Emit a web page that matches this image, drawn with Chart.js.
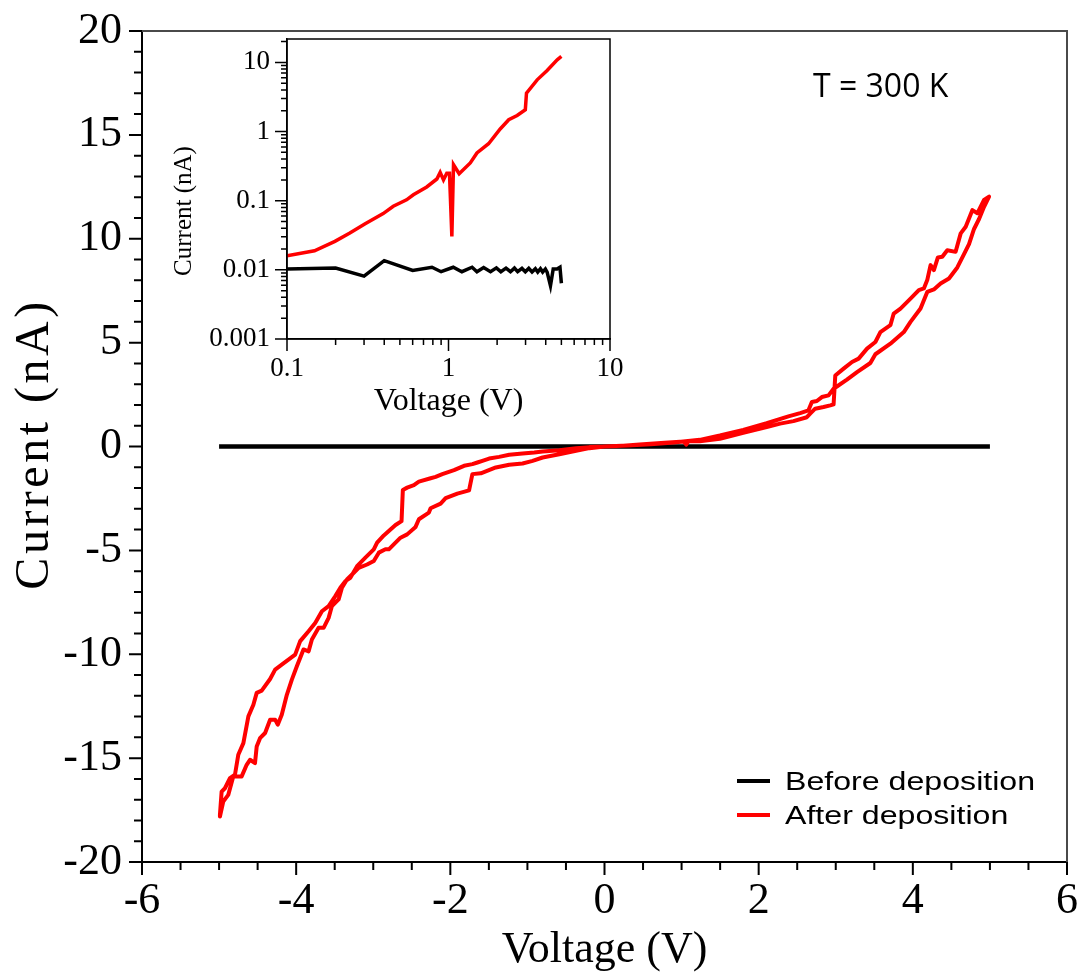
<!DOCTYPE html>
<html><head><meta charset="utf-8">
<script src="https://cdn.jsdelivr.net/npm/chart.js@4.4.0/dist/chart.umd.min.js"></script>
<style>
html,body{margin:0;padding:0;background:#fff;}
#wrap{position:relative;width:1080px;height:974px;overflow:hidden;background:#fff;}
#main{position:absolute;left:0;top:0;}
#inset{position:absolute;left:150px;top:20px;}
</style></head><body>
<div id="wrap"><canvas id="main" width="1080" height="974"></canvas><canvas id="inset" width="480" height="400"></canvas></div>
<script>
// ---------------- data ----------------
const seriesNames = ['Before deposition', 'After deposition'];
const annotationText = 'T = 300 K';
const xAxisTitle = 'Voltage (V)';
const yAxisTitle = 'Current (nA)';

const beforeVoltage = [-5, -2.5, 0, 2.5, 5];
const beforeCurrent = [0, 0, 0, 0, 0];

// hysteresis loop: 0 -> +5 -> 0 -> -5 -> 0
const afterVoltage = [
  0, 0.2, 0.455, 0.78, 1.03, 1.06, 1.09, 1.236, 1.497, 1.8, 2.104, 2.278, 2.451, 2.625, 2.668, 2.733, 2.842, 2.929, 2.972, 2.994,
  3.102, 3.211, 3.297, 3.406, 3.514, 3.579, 3.709, 3.752, 3.84, 3.97, 4.078, 4.143, 4.187, 4.23, 4.273, 4.325, 4.382, 4.447, 4.555,
  4.621, 4.686, 4.773, 4.838, 4.924, 4.989,
  4.924, 4.859, 4.794, 4.729, 4.664, 4.577, 4.469, 4.36, 4.273, 4.187, 4.1, 3.97, 3.883, 3.709, 3.514, 3.449, 3.276, 3.145, 2.972,
  2.907, 2.82, 2.755, 2.69, 2.646, 2.538, 2.386, 2.104, 1.8, 1.497, 1.236, 0.9, 0.6, 0.3, 0,
  -0.195, -0.369, -0.586, -0.803, -0.911, -1.063, -1.236, -1.367, -1.497, -1.584, -1.649, -1.714, -1.822, -1.952, -2.104, -2.191,
  -2.256, -2.408, -2.473, -2.56, -2.616, -2.633, -2.711, -2.798, -2.863, -2.95, -2.993, -3.102, -3.21, -3.297, -3.362, -3.427,
  -3.492, -3.579, -3.666, -3.753, -3.839, -3.948, -4.013, -4.1, -4.187, -4.273, -4.338, -4.447, -4.512, -4.555, -4.62, -4.685,
  -4.751, -4.794, -4.859, -4.924, -4.967, -4.989,
  -4.989, -4.946, -4.881, -4.816, -4.707, -4.642, -4.599, -4.534, -4.512, -4.469, -4.403, -4.338, -4.273, -4.239, -4.187, -4.121,
  -4.056, -3.991, -3.905, -3.839, -3.796, -3.709, -3.644, -3.579, -3.536, -3.449, -3.406, -3.341, -3.275, -3.189, -3.08, -2.993,
  -2.928, -2.842, -2.798, -2.711, -2.646, -2.56, -2.451, -2.408, -2.278, -2.256, -2.126, -2.061, -1.909, -1.757, -1.714, -1.605,
  -1.41, -1.236, -1.063, -0.933, -0.803, -0.586, -0.369, -0.195, 0
];
const afterCurrent = [
  0, 0.03, 0.10, 0.18, 0.24, 0.09, 0.26, 0.25, 0.37, 0.66, 0.93, 1.10, 1.22, 1.41, 1.58, 1.82, 1.90, 1.98, 2.03, 3.42,
  3.75, 4.07, 4.23, 4.71, 5.03, 5.51, 5.84, 6.40, 6.64, 7.12, 7.53, 7.61, 8.01, 8.73, 8.49, 9.10, 9.13, 9.45, 9.37,
  10.26, 10.58, 11.38, 11.23, 11.87, 12.03,
  11.54, 10.95, 10.47, 9.74, 9.26, 8.62, 8.09, 7.85, 7.56, 7.44, 6.64, 6.00, 5.51, 4.95, 4.44, 4.02, 3.58, 3.22, 2.78,
  2.46, 2.38, 2.19, 2.14, 1.74, 1.61, 1.45, 1.12, 0.80, 0.53, 0.32, 0.19, 0.11, 0.05, 0,
  -0.03, -0.08, -0.18, -0.24, -0.29, -0.34, -0.40, -0.50, -0.58, -0.69, -0.77, -0.85, -0.93, -1.14, -1.33, -1.46,
  -1.53, -1.69, -1.86, -1.98, -2.09, -3.59, -3.78, -4.07, -4.28, -4.63, -4.95, -5.35, -5.76, -6.32, -6.48, -6.80,
  -7.20, -7.68, -7.93, -8.49, -8.89, -9.37, -10.02, -10.26, -10.50, -10.74, -11.19, -11.75, -11.86, -12.43, -12.99, -14.28,
  -14.84, -15.80, -15.96, -16.45, -16.61, -17.73,
  -17.81, -17.09, -16.77, -15.88, -15.88, -15.32, -15.08, -15.24, -14.44, -14.04, -13.79, -13.15, -13.15, -13.39, -12.91, -11.95,
  -11.22, -10.58, -9.77, -9.86, -9.29, -8.73, -8.73, -8.25, -7.68, -7.36, -6.80, -6.40, -6.16, -5.84, -5.68, -5.51,
  -5.11, -4.95, -4.95, -4.63, -4.39, -4.23, -3.87, -3.50, -3.18, -2.97, -2.75, -2.49, -2.27, -2.11, -1.33, -1.29,
  -1.01, -0.88, -0.82, -0.69, -0.53, -0.37, -0.21, -0.08, 0
];

const xTickValues = [-6, -4, -2, 0, 2, 4, 6];
const xTickLabels = ['-6', '-4', '-2', '0', '2', '4', '6'];
const yTickValues = [-20, -15, -10, -5, 0, 5, 10, 15, 20];
const yTickLabels = ['-20', '-15', '-10', '-5', '0', '5', '10', '15', '20'];

// inset (log-log, positive bias)
const insetBeforeVoltage = [0.1, 0.2, 0.3, 0.4, 0.6, 0.79, 0.9, 1.07, 1.21, 1.4, 1.5, 1.65, 1.82, 1.98, 2.11, 2.27, 2.42, 2.56,
  2.68, 2.85, 2.99, 3.14, 3.29, 3.45, 3.57, 3.71, 3.83, 3.98, 4.08, 4.28, 4.45, 4.7, 4.9, 5.0];
const insetBeforeCurrent = [0.0103, 0.0106, 0.0081, 0.0136, 0.0098, 0.0109, 0.0094, 0.0109, 0.0094, 0.0109, 0.0094, 0.0108,
  0.0094, 0.0107, 0.0094, 0.0106, 0.0094, 0.0106, 0.0094, 0.0105, 0.0094, 0.0105, 0.0093, 0.0104, 0.0093, 0.0104, 0.0093,
  0.0103, 0.0093, 0.0059, 0.0103, 0.0103, 0.0109, 0.0064];
const insetAfterVoltage = [0.1, 0.148, 0.198, 0.245, 0.303, 0.394, 0.455, 0.55, 0.606, 0.733, 0.847, 0.888, 0.931, 0.976, 1.014,
  1.049, 1.074, 1.164, 1.364, 1.5, 1.77, 2.09, 2.36, 2.66, 2.99, 3.04, 3.54, 4.08, 4.71, 5.0];
const insetAfterCurrent = [0.016, 0.0189, 0.0258, 0.034, 0.046, 0.065, 0.083, 0.103, 0.122, 0.158, 0.206, 0.257, 0.2, 0.25, 0.25,
  0.0305, 0.331, 0.245, 0.351, 0.49, 0.667, 1.09, 1.48, 1.71, 2.07, 3.6, 5.6, 7.66, 10.9, 12.2];
const insetXTickValues = [0.1, 1, 10];
const insetXTickLabels = ['0.1', '1', '10'];
const insetYTickValues = [0.001, 0.01, 0.1, 1, 10];
const insetYTickLabels = ['0.001', '0.01', '0.1', '1', '10'];

// ---------------- helpers ----------------
const toPoints = (xs, ys) => xs.map((v, i) => ({ x: v, y: ys[i] }));
const SERIF = '"Liberation Serif", "Times New Roman", serif';
const SANS = '"Liberation Sans", Arial, sans-serif';
const lineColors = ['#000000', '#ff0000'];

function linearMinors(values, step) {
  const out = [];
  for (let i = 0; i < values.length - 1; i++) {
    for (let v = values[i] + step; v < values[i + 1] - 1e-9; v += step) out.push(v);
  }
  return out;
}
function logMinors(values, max) {
  const out = [];
  for (let i = 0; i < values.length; i++) {
    for (let k = 2; k <= 9; k++) { const v = values[i] * k; if (v <= max * 1.0001) out.push(v); }
  }
  return out;
}
const fitX = h => s => { s.height = h; s.paddingLeft = 0; s.paddingRight = 0; s.paddingTop = 0; s.paddingBottom = 0; };
const fitY = w => s => { s.width = w; s.paddingLeft = 0; s.paddingRight = 0; s.paddingTop = 0; s.paddingBottom = 0; };

function tickPlugin(cfg) {
  return {
    id: 'tickMarks',
    afterDraw(chart) {
      const { ctx, chartArea } = chart;
      const xs = chart.scales.x, ys = chart.scales.y;
      ctx.save();
      ctx.strokeStyle = '#000';
      ctx.lineWidth = cfg.width;
      ctx.beginPath();
      const xt = (vals, len) => vals.forEach(v => {
        const p = xs.getPixelForValue(v);
        ctx.moveTo(p, chartArea.bottom); ctx.lineTo(p, chartArea.bottom + len);
      });
      const yt = (vals, len) => vals.forEach(v => {
        const p = ys.getPixelForValue(v);
        ctx.moveTo(chartArea.left, p); ctx.lineTo(chartArea.left - len, p);
      });
      xt(cfg.xMajor, cfg.majorLen); xt(cfg.xMinor, cfg.minorLen);
      yt(cfg.yMajor, cfg.majorLen); yt(cfg.yMinor, cfg.minorLen);
      ctx.stroke();
      ctx.restore();
    }
  };
}

// ---------------- main chart ----------------
const mainDecor = {
  id: 'mainDecor',
  afterDraw(chart) {
    const { ctx, chartArea: a } = chart;
    ctx.save();
    // top & right frame
    ctx.strokeStyle = '#4a4a4a';
    ctx.lineWidth = 2;
    ctx.beginPath();
    ctx.moveTo(a.left, a.top); ctx.lineTo(a.right, a.top); ctx.lineTo(a.right, a.bottom);
    ctx.stroke();
    // axis titles
    ctx.fillStyle = '#000';
    ctx.font = '44px ' + SERIF;
    ctx.textAlign = 'center';
    ctx.textBaseline = 'alphabetic';
    ctx.fillText(xAxisTitle, (a.left + a.right) / 2, 962);
    ctx.save();
    ctx.translate(48, 446);
    ctx.rotate(-Math.PI / 2);
    ctx.font = '48px ' + SERIF;
    ctx.letterSpacing = '3.5px';
    ctx.fillText(yAxisTitle, 2, 0);
    ctx.restore();
    // annotation
    ctx.textAlign = 'left';
    ctx.font = '32px "Open Sans", ' + SANS;
    ctx.fillText(annotationText, 813, 97);
    // legend
    const ds = chart.data.datasets;
    const legendOrder = [1, 0]; // Before, After
    legendOrder.forEach((di, row) => {
      const d = ds[di];
      const ly = 781 + row * 34;
      ctx.strokeStyle = d.borderColor;
      ctx.lineWidth = 4;
      ctx.beginPath(); ctx.moveTo(737, ly); ctx.lineTo(770, ly); ctx.stroke();
      ctx.save();
      ctx.translate(785, ly + 8.5);
      ctx.scale(1.26, 1);
      ctx.font = '25.5px ' + SANS;
      ctx.fillStyle = '#000';
      ctx.fillText(d.label, 0, 0);
      ctx.restore();
    });
    ctx.restore();
  }
};

new Chart(document.getElementById('main'), {
  type: 'scatter',
  data: {
    datasets: [
      { label: seriesNames[1], data: toPoints(afterVoltage, afterCurrent), borderColor: lineColors[1], backgroundColor: lineColors[1],
        borderWidth: 4, showLine: true, pointRadius: 0, pointHoverRadius: 0, tension: 0, borderJoinStyle: 'round', borderCapStyle: 'round', order: 0 },
      { label: seriesNames[0], data: toPoints(beforeVoltage, beforeCurrent), borderColor: lineColors[0], backgroundColor: lineColors[0],
        borderWidth: 4.5, showLine: true, pointRadius: 0, pointHoverRadius: 0, tension: 0, order: 1 }
    ]
  },
  options: {
    responsive: false, animation: false, events: [],
    layout: { padding: { top: 31, right: 13, left: 0, bottom: 0 } },
    plugins: { legend: { display: false }, tooltip: { enabled: false } },
    scales: {
      x: {
        type: 'linear', min: -6, max: 6, position: 'bottom',
        afterFit: fitX(112),
        afterBuildTicks: s => { s.ticks = xTickValues.map(v => ({ value: v })); },
        grid: { display: false, drawTicks: false },
        border: { display: true, color: '#000', width: 2 },
        ticks: { padding: 13, autoSkip: false, maxRotation: 0, color: '#000', font: { family: SERIF, size: 44, lineHeight: 1.2 },
          callback: v => { const i = xTickValues.indexOf(v); return i >= 0 ? xTickLabels[i] : ''; } }
      },
      y: {
        type: 'linear', min: -20, max: 20, position: 'left',
        afterFit: fitY(142),
        afterBuildTicks: s => { s.ticks = yTickValues.map(v => ({ value: v })); },
        grid: { display: false, drawTicks: false },
        border: { display: true, color: '#000', width: 2 },
        ticks: { padding: 20, autoSkip: false, color: '#000', font: { family: SERIF, size: 44, lineHeight: 1.2 },
          callback: v => { const i = yTickValues.indexOf(v); return i >= 0 ? yTickLabels[i] : ''; } }
      }
    }
  },
  plugins: [mainDecor, tickPlugin({ width: 2, majorLen: 13, minorLen: 8,
    xMajor: xTickValues, xMinor: linearMinors(xTickValues, 0.5),
    yMajor: yTickValues, yMinor: linearMinors(yTickValues, 1) })]
});

// ---------------- inset chart ----------------
const INSET_YMAX = 21.8;
const insetDecor = {
  id: 'insetDecor',
  beforeDraw(chart) {
    const { ctx, chartArea: a } = chart;
    ctx.save(); ctx.fillStyle = '#fff'; ctx.fillRect(a.left, a.top, a.right - a.left, a.bottom - a.top); ctx.restore();
  },
  afterDraw(chart) {
    const { ctx, chartArea: a } = chart;
    ctx.save();
    ctx.strokeStyle = '#000';
    ctx.lineWidth = 1.5;
    ctx.strokeRect(a.left, a.top, a.right - a.left, a.bottom - a.top);
    ctx.fillStyle = '#000';
    ctx.textAlign = 'center';
    ctx.textBaseline = 'alphabetic';
    ctx.font = '32px ' + SERIF;
    ctx.fillText(xAxisTitle, (a.left + a.right) / 2, 390);
    ctx.save();
    ctx.translate(41, 191);
    ctx.rotate(-Math.PI / 2);
    ctx.font = '25px ' + SERIF;
    ctx.fillText(yAxisTitle, 0, 0);
    ctx.restore();
    ctx.restore();
  }
};

new Chart(document.getElementById('inset'), {
  type: 'scatter',
  data: {
    datasets: [
      { label: seriesNames[1], data: toPoints(insetAfterVoltage, insetAfterCurrent), borderColor: lineColors[1],
        borderWidth: 3.5, showLine: true, pointRadius: 0, pointHoverRadius: 0, tension: 0, borderJoinStyle: 'miter', order: 0 },
      { label: seriesNames[0], data: toPoints(insetBeforeVoltage, insetBeforeCurrent), borderColor: lineColors[0],
        borderWidth: 3.5, showLine: true, pointRadius: 0, pointHoverRadius: 0, tension: 0, borderJoinStyle: 'miter', order: 1 }
    ]
  },
  options: {
    responsive: false, animation: false, events: [],
    layout: { padding: { top: 19, right: 20, left: 0, bottom: 0 } },
    plugins: { legend: { display: false }, tooltip: { enabled: false } },
    scales: {
      x: {
        type: 'logarithmic', min: 0.1, max: 10, position: 'bottom',
        afterFit: fitX(81),
        afterBuildTicks: s => { s.ticks = insetXTickValues.map(v => ({ value: v })); },
        grid: { display: false, drawTicks: false },
        border: { display: true, color: '#000', width: 1.5 },
        ticks: { padding: 14, autoSkip: false, maxRotation: 0, color: '#000', font: { family: SERIF, size: 27, lineHeight: 1.2 },
          callback: v => { const i = insetXTickValues.indexOf(v); return i >= 0 ? insetXTickLabels[i] : ''; } }
      },
      y: {
        type: 'logarithmic', min: 0.001, max: INSET_YMAX, position: 'left',
        afterFit: fitY(137),
        afterBuildTicks: s => { s.ticks = insetYTickValues.map(v => ({ value: v })); },
        grid: { display: false, drawTicks: false },
        border: { display: true, color: '#000', width: 1.5 },
        ticks: { padding: 17, autoSkip: false, color: '#000', font: { family: SERIF, size: 27, lineHeight: 1.2 },
          callback: v => { const i = insetYTickValues.indexOf(v); return i >= 0 ? insetYTickLabels[i] : ''; } }
      }
    }
  },
  plugins: [insetDecor, tickPlugin({ width: 1.5, majorLen: 12, minorLen: 6,
    xMajor: insetXTickValues, xMinor: logMinors(insetXTickValues.slice(0, -1), 10),
    yMajor: insetYTickValues, yMinor: logMinors(insetYTickValues, INSET_YMAX) })]
});
</script>
</body></html>
